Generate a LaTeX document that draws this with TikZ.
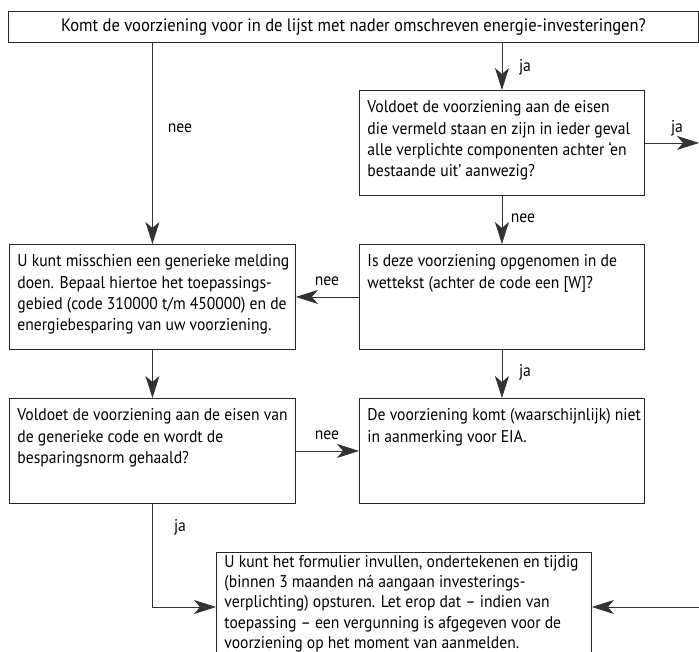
\documentclass[tikz,border=0pt]{standalone}
\usepackage{fontspec}
\setmainfont[FakeStretch=0.92]{PT Sans}
\usetikzlibrary{arrows.meta}
\newcommand{\bxt}[3]{\begin{minipage}[t][#2][t]{#1}\raggedright\strut #3\end{minipage}}
\begin{document}
\begin{tikzpicture}[x=1pt,y=-1pt,
  box/.style={draw=black!85, line width=0.9pt, anchor=north west, inner xsep=8pt, inner ysep=7.5pt, font=\fontsize{17}{21.3}\selectfont},
  arr/.style={draw=black!80, line width=0.8pt, -{Stealth[length=22pt,width=14pt,inset=6pt]}},
  lbl/.style={font=\fontsize{17}{20}\selectfont, inner sep=0pt}]
\useasboundingbox (0,0) rectangle (699,652);
\node[draw=black!85, line width=0.9pt, anchor=north west, minimum width=690pt, minimum height=31pt, inner sep=0pt, font=\fontsize{18}{20}\selectfont] (q) at (8,11) {Komt de voorziening voor in de lijst met nader omschreven energie-investeringen?};
\node[box] (v1) at (359,90) {\bxt{269pt}{90pt}{Voldoet de voorziening aan de eisen\\ \mbox{die vermeld staan en zijn in ieder geval}\\ alle verplichte componenten achter ‘en\\ bestaande uit’ aanwezig?}};
\node[box] (isd) at (359,244) {\bxt{269pt}{90pt}{Is deze voorziening opgenomen in de\\ wettekst (achter de code een [W]?}};
\node[box] (komt) at (359,398) {\bxt{269pt}{90pt}{\mbox{De voorziening komt (waarschijnlijk) niet}\\ in aanmerking voor EIA.}};
\node[box] (gen1) at (9,244) {\bxt{270pt}{90pt}{\mbox{U kunt misschien een generieke melding}\\ doen. Bepaal hiertoe het toepassings-\\ gebied (code 310000 t/m 450000) en de\\ energiebesparing van uw voorziening.}};
\node[box] (gen2) at (9,398) {\bxt{270pt}{90pt}{\mbox{Voldoet de voorziening aan de eisen van}\\ de generieke code en wordt de\\ besparingsnorm gehaald?}};
\node[box, inner ysep=1pt, font=\fontsize{17}{20.2}\selectfont] (fin) at (216,552) {\bxt{359pt}{112pt}{U kunt het formulier invullen, ondertekenen en tijdig\\ (binnen 3 maanden ná aangaan investerings-\\ verplichting) opsturen. Let erop dat – indien van\\ toepassing – een vergunning is afgegeven voor de\\ voorziening op het moment van aanmelden.}};
\coordinate (r1) at (699,0);
\coordinate (r2) at (699,607);
\draw[arr] (q.south -| gen1.north) -- (gen1.north);
\draw[arr] (q.south -| v1.north) -- (v1.north);
\draw[arr] (v1.east) -- (v1.east -| r1);
\draw[arr] (v1.south) -- (isd.north);
\draw[arr] (isd.west) -- (gen1.east);
\draw[arr] (isd.south) -- (komt.north);
\draw[arr] (gen1.south) -- (gen2.north);
\draw[arr] (gen2.east) -- (komt.west);
\draw[arr] (gen2.south) |- (fin.west |- r2);
\draw[arr] (r2) -- (r2 -| fin.east);
\node[lbl] (l1) at (180,128) {nee};
\node[lbl] (l2) at (525,67) {ja};
\node[lbl] (l3) at (677,128) {ja};
\node[lbl] (l4) at (523,218) {nee};
\node[lbl] (l5) at (327,281) {nee};
\node[lbl] (l6) at (525,372) {ja};
\node[lbl] (l7) at (327,435) {nee};
\node[lbl] (l8) at (180,527) {ja};
\end{tikzpicture}
\end{document}
